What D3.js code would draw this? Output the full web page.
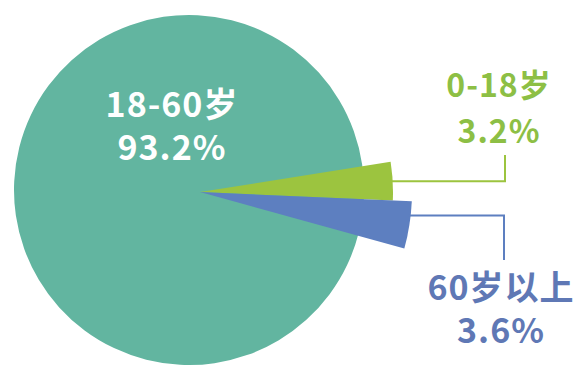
<!DOCTYPE html>
<html>
<head>
<meta charset="utf-8">
<script src="https://cdn.jsdelivr.net/npm/d3@7"></script>
<style>
  body { margin: 0; background: #fff; }
  svg text { font-family: "Noto Sans CJK SC", "Noto Sans", sans-serif; font-weight: bold; }
</style>
</head>
<body>
<div id="chart"></div>
<script>
// data
var groups = ["0-18岁", "60岁以上", "18-60岁"];
var shares = [3.2, 3.6, 93.2];

var colors = ["#9cc43f", "#5d7fc0", "#62b5a0"];
var labelColors = ["#8dbf45", "#5f78b5", "#ffffff"];

var width = 579, height = 365;
var svg = d3.select("#chart").append("svg")
  .attr("width", width).attr("height", height);

var start = 81 * Math.PI / 180;
var pie = d3.pie()
  .sort(null)
  .value(function(d) { return d; })
  .startAngle(start)
  .endAngle(start + 2 * Math.PI);

var arcs = pie(shares);

// per slice geometry (small slices pulled out and bigger)
var radii = [193, 212, 175];
var centers = [[200, 192], [200, 192], [189, 190]];
var overlap = [0, 0, 0.22]; // big slice tucks under the small ones

var drawOrder = [2, 0, 1];
drawOrder.forEach(function(i) {
  var arc = d3.arc().innerRadius(0).outerRadius(radii[i]);
  svg.append("path")
    .attr("transform", "translate(" + centers[i][0] + "," + centers[i][1] + ")")
    .attr("d", arc({
      startAngle: arcs[i].startAngle - overlap[i],
      endAngle: arcs[i].endAngle + overlap[i]
    }))
    .attr("fill", colors[i]);
});

// leader lines
var lineAt = [0.5, 0.3];
var lineEnds = [[505, 155], [504, 260]];
[0, 1].forEach(function(i) {
  var a = arcs[i].startAngle + lineAt[i] * (arcs[i].endAngle - arcs[i].startAngle);
  var r = radii[i] - 2;
  var x0 = centers[i][0] + r * Math.sin(a);
  var y0 = centers[i][1] - r * Math.cos(a);
  svg.append("path")
    .attr("d", "M" + x0 + "," + y0 + "H" + lineEnds[i][0] + "V" + lineEnds[i][1])
    .attr("fill", "none")
    .attr("stroke", colors[i])
    .attr("stroke-width", 2);
});

// labels
var labelPos = [[499, 97, 143, 32], [501, 300, 343, 34], [172, 117, 160, 34]];
arcs.forEach(function(d, i) {
  var p = labelPos[i];
  var t = svg.append("text")
    .attr("text-anchor", "middle")
    .attr("fill", labelColors[i])
    .attr("font-size", p[3])
    .attr("letter-spacing", 1);
  t.append("tspan").attr("x", p[0]).attr("y", p[1]).text(groups[i]);
  t.append("tspan").attr("x", p[0]).attr("y", p[2]).text(shares[i].toFixed(1) + "%");
});
</script>
</body>
</html>
